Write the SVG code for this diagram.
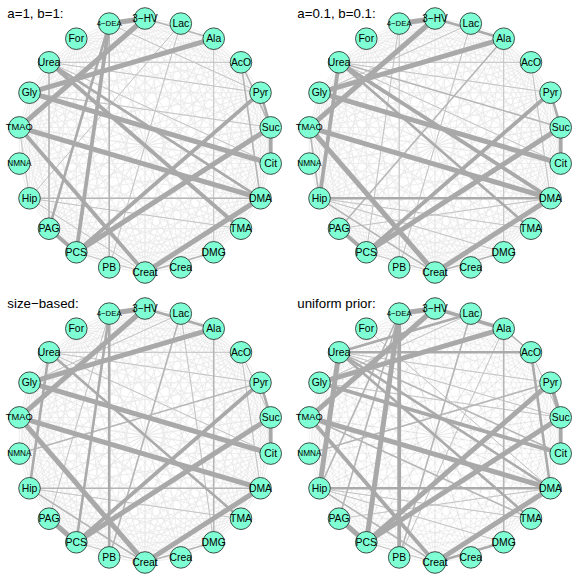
<svg xmlns="http://www.w3.org/2000/svg" xmlns:xlink="http://www.w3.org/1999/xlink" width="581" height="581" viewBox="0 0 581 581">
<style>
.title{font-family:"Liberation Sans",Arial,sans-serif;font-size:13.3px;fill:#000}
.nodes circle{fill:#7fffd4;stroke:#222;stroke-width:.8}
.nodes text{font-family:"Liberation Sans",Arial,sans-serif;font-size:10.4px;text-anchor:middle;dominant-baseline:central;fill:#000}
.nodes text.s10{font-size:10px}
.nodes text.s9{font-size:9.3px}
.nodes text.s8{font-size:8.2px}
.nodes text.s7{font-size:7.8px}
.e1{stroke:#c4c4c4;stroke-width:1;fill:none}
.e2{stroke:#b6b6b6;stroke-width:1.6;fill:none}
.e3{stroke:#ababab;stroke-width:2.6;fill:none}
.e4{stroke:#a9a9a9;stroke-width:3.8;fill:none}
.e5{stroke:#a9a9a9;stroke-width:5;fill:none}
.meshA{stroke:#e8e8e8;stroke-width:.7;fill:none}
.meshB{stroke:#999;stroke-opacity:.16;stroke-width:.7;fill:none}
</style>
<defs>
<path id="fan" d="M270.71 127.43L260.52 92.74M270.71 127.43L240.98 62.33M270.71 127.43L213.66 38.66M270.71 127.43L180.78 23.64M270.71 127.43L145 18.5M270.71 127.43L109.22 23.64M270.71 127.43L76.34 38.66M270.71 127.43L49.02 62.33M270.71 127.43L29.48 92.74M270.71 127.43L19.29 127.43M270.71 127.43L19.29 163.57"/>
<g id="mesh">
<use href="#fan"/>
<use href="#fan" transform="rotate(-16.3636 145 145.5)"/>
<use href="#fan" transform="rotate(-32.7273 145 145.5)"/>
<use href="#fan" transform="rotate(-49.0909 145 145.5)"/>
<use href="#fan" transform="rotate(-65.4545 145 145.5)"/>
<use href="#fan" transform="rotate(-81.8182 145 145.5)"/>
<use href="#fan" transform="rotate(-98.1818 145 145.5)"/>
<use href="#fan" transform="rotate(-114.5455 145 145.5)"/>
<use href="#fan" transform="rotate(-130.9091 145 145.5)"/>
<use href="#fan" transform="rotate(-147.2727 145 145.5)"/>
<use href="#fan" transform="rotate(-163.6364 145 145.5)"/>
<use href="#fan" transform="rotate(-180 145 145.5)"/>
<use href="#fan" transform="rotate(-196.3636 145 145.5)"/>
<use href="#fan" transform="rotate(-212.7273 145 145.5)"/>
<use href="#fan" transform="rotate(-229.0909 145 145.5)"/>
<use href="#fan" transform="rotate(-245.4545 145 145.5)"/>
<use href="#fan" transform="rotate(-261.8182 145 145.5)"/>
<use href="#fan" transform="rotate(-278.1818 145 145.5)"/>
<use href="#fan" transform="rotate(-294.5455 145 145.5)"/>
<use href="#fan" transform="rotate(-310.9091 145 145.5)"/>
<use href="#fan" transform="rotate(-327.2727 145 145.5)"/>
<use href="#fan" transform="rotate(-343.6364 145 145.5)"/>
</g>
</defs>
<rect width="581" height="581" fill="#fff"/>

<!-- Panel 1 -->
<g id="panel1">
<g id="p1-connectors">
<use href="#mesh" class="meshA"/>
<g class="e1">
<line x1="213.7" y1="38.7" x2="213.7" y2="252.3"/>
<line x1="180.8" y1="23.6" x2="109.2" y2="267.4"/>
<line x1="49" y1="62.3" x2="241" y2="62.3"/>
<line x1="29.5" y1="198.3" x2="145" y2="272.5"/>
<line x1="19.3" y1="127.4" x2="29.5" y2="198.3"/>
<line x1="49" y1="62.3" x2="270.7" y2="163.6"/>
<line x1="49" y1="62.3" x2="260.5" y2="92.7"/>
<line x1="109.2" y1="23.6" x2="260.5" y2="92.7"/>
<line x1="76.3" y1="252.3" x2="145" y2="272.5"/>
<line x1="29.5" y1="198.3" x2="241" y2="228.7"/>
<line x1="180.8" y1="23.6" x2="29.5" y2="198.3"/>
<line x1="29.5" y1="92.7" x2="270.7" y2="127.4"/>
</g>
<g class="e2">
<line x1="145" y1="18.5" x2="213.7" y2="38.7"/>
<line x1="109.2" y1="23.6" x2="109.2" y2="267.4"/>
<line x1="145" y1="272.5" x2="213.7" y2="252.3"/>
<line x1="29.5" y1="198.3" x2="260.5" y2="198.3"/>
<line x1="49" y1="62.3" x2="49" y2="228.7"/>
<line x1="241" y1="62.3" x2="270.7" y2="127.4"/>
<line x1="241" y1="62.3" x2="260.5" y2="198.3"/>
</g>
<g class="e3">
<line x1="260.5" y1="92.7" x2="270.7" y2="127.4"/>
<line x1="109.2" y1="23.6" x2="49" y2="228.7"/>
<line x1="49" y1="62.3" x2="260.5" y2="198.3"/>
</g>
<g class="e4">
<line x1="109.2" y1="23.6" x2="76.3" y2="252.3"/>
<line x1="19.3" y1="127.4" x2="145" y2="272.5"/>
<line x1="260.5" y1="92.7" x2="76.3" y2="252.3"/>
<line x1="49" y1="228.7" x2="76.3" y2="252.3"/>
<line x1="270.7" y1="127.4" x2="270.7" y2="163.6"/>
<line x1="49" y1="62.3" x2="241" y2="228.7"/>
</g>
<g class="e5">
<line x1="109.2" y1="23.6" x2="145" y2="18.5"/>
<line x1="145" y1="18.5" x2="19.3" y2="127.4"/>
<line x1="213.7" y1="38.7" x2="29.5" y2="92.7"/>
<line x1="29.5" y1="92.7" x2="270.7" y2="163.6"/>
<line x1="19.3" y1="127.4" x2="260.5" y2="198.3"/>
<line x1="270.7" y1="127.4" x2="76.3" y2="252.3"/>
<line x1="145" y1="272.5" x2="260.5" y2="198.3"/>
</g>
</g>
<g class="nodes">
<g id="p1-Suc"><circle cx="270.7" cy="127.4" r="10.8"/><text x="270.7" y="127.4">Suc</text></g>
<g id="p1-Pyr"><circle cx="260.5" cy="92.7" r="10.8"/><text x="260.5" y="92.7">Pyr</text></g>
<g id="p1-AcO"><circle cx="241" cy="62.3" r="10.8"/><text x="241" y="62.3">AcO</text></g>
<g id="p1-Ala"><circle cx="213.7" cy="38.7" r="10.8"/><text x="213.7" y="38.7">Ala</text></g>
<g id="p1-Lac"><circle cx="180.8" cy="23.6" r="10.8"/><text x="180.8" y="23.6">Lac</text></g>
<g id="p1-3HV"><circle cx="145" cy="18.5" r="10.8"/><text class="s10" x="145" y="18.5">3−HV</text></g>
<g id="p1-4DEA"><circle cx="109.2" cy="23.6" r="10.8"/><text class="s7" x="109.2" y="23.6">4−DEA</text></g>
<g id="p1-For"><circle cx="76.3" cy="38.7" r="10.8"/><text x="76.3" y="38.7">For</text></g>
<g id="p1-Urea"><circle cx="49" cy="62.3" r="10.8"/><text x="49" y="62.3">Urea</text></g>
<g id="p1-Gly"><circle cx="29.5" cy="92.7" r="10.8"/><text x="29.5" y="92.7">Gly</text></g>
<g id="p1-TMAO"><circle cx="19.3" cy="127.4" r="10.8"/><text class="s9" x="19.3" y="127.4">TMAO</text></g>
<g id="p1-NMNA"><circle cx="19.3" cy="163.6" r="10.8"/><text class="s8" x="19.3" y="163.6">NMNA</text></g>
<g id="p1-Hip"><circle cx="29.5" cy="198.3" r="10.8"/><text x="29.5" y="198.3">Hip</text></g>
<g id="p1-PAG"><circle cx="49" cy="228.7" r="10.8"/><text x="49" y="228.7">PAG</text></g>
<g id="p1-PCS"><circle cx="76.3" cy="252.3" r="10.8"/><text x="76.3" y="252.3">PCS</text></g>
<g id="p1-PB"><circle cx="109.2" cy="267.4" r="10.8"/><text x="109.2" y="267.4">PB</text></g>
<g id="p1-Creat"><circle cx="145" cy="272.5" r="10.8"/><text x="145" y="272.5">Creat</text></g>
<g id="p1-Crea"><circle cx="180.8" cy="267.4" r="10.8"/><text x="180.8" y="267.4">Crea</text></g>
<g id="p1-DMG"><circle cx="213.7" cy="252.3" r="10.8"/><text x="213.7" y="252.3">DMG</text></g>
<g id="p1-TMA"><circle cx="241" cy="228.7" r="10.8"/><text x="241" y="228.7">TMA</text></g>
<g id="p1-DMA"><circle cx="260.5" cy="198.3" r="10.8"/><text x="260.5" y="198.3">DMA</text></g>
<g id="p1-Cit"><circle cx="270.7" cy="163.6" r="10.8"/><text x="270.7" y="163.6">Cit</text></g>
</g>
<text class="title" x="7.3" y="17.5">a=1, b=1:</text>
</g>

<!-- Panel 2 -->
<g id="panel2" transform="translate(290,0)">
<g id="p2-connectors">
<use href="#mesh" class="meshA"/>
<g class="e1">
<line x1="213.7" y1="38.7" x2="213.7" y2="252.3"/>
<line x1="109.2" y1="23.6" x2="109.2" y2="267.4"/>
<line x1="109.2" y1="23.6" x2="76.3" y2="252.3"/>
<line x1="49" y1="62.3" x2="241" y2="62.3"/>
<line x1="49" y1="62.3" x2="270.7" y2="163.6"/>
<line x1="180.8" y1="23.6" x2="109.2" y2="267.4"/>
<line x1="29.5" y1="198.3" x2="213.7" y2="252.3"/>
<line x1="49" y1="62.3" x2="260.5" y2="92.7"/>
<line x1="76.3" y1="252.3" x2="145" y2="272.5"/>
<line x1="180.8" y1="23.6" x2="29.5" y2="92.7"/>
<line x1="29.5" y1="198.3" x2="241" y2="228.7"/>
<line x1="49" y1="228.7" x2="260.5" y2="198.3"/>
<line x1="241" y1="62.3" x2="260.5" y2="198.3"/>
</g>
<g class="e2">
<line x1="29.5" y1="198.3" x2="145" y2="272.5"/>
<line x1="145" y1="272.5" x2="213.7" y2="252.3"/>
<line x1="19.3" y1="127.4" x2="29.5" y2="198.3"/>
<line x1="49" y1="62.3" x2="270.7" y2="127.4"/>
<line x1="213.7" y1="38.7" x2="49" y2="228.7"/>
</g>
<g class="e3">
<line x1="29.5" y1="198.3" x2="260.5" y2="198.3"/>
<line x1="260.5" y1="92.7" x2="270.7" y2="127.4"/>
<line x1="145" y1="18.5" x2="213.7" y2="38.7"/>
<line x1="49" y1="62.3" x2="241" y2="228.7"/>
</g>
<g class="e4">
<line x1="49" y1="62.3" x2="29.5" y2="198.3"/>
<line x1="49" y1="62.3" x2="260.5" y2="198.3"/>
<line x1="260.5" y1="92.7" x2="76.3" y2="252.3"/>
<line x1="49" y1="228.7" x2="76.3" y2="252.3"/>
<line x1="270.7" y1="127.4" x2="270.7" y2="163.6"/>
</g>
<g class="e5">
<line x1="109.2" y1="23.6" x2="145" y2="18.5"/>
<line x1="145" y1="18.5" x2="19.3" y2="127.4"/>
<line x1="213.7" y1="38.7" x2="29.5" y2="92.7"/>
<line x1="29.5" y1="92.7" x2="270.7" y2="163.6"/>
<line x1="19.3" y1="127.4" x2="260.5" y2="198.3"/>
<line x1="270.7" y1="127.4" x2="76.3" y2="252.3"/>
<line x1="145" y1="272.5" x2="260.5" y2="198.3"/>
<line x1="19.3" y1="127.4" x2="145" y2="272.5"/>
</g>
</g>
<g class="nodes">
<g id="p2-Suc"><circle cx="270.7" cy="127.4" r="10.8"/><text x="270.7" y="127.4">Suc</text></g>
<g id="p2-Pyr"><circle cx="260.5" cy="92.7" r="10.8"/><text x="260.5" y="92.7">Pyr</text></g>
<g id="p2-AcO"><circle cx="241" cy="62.3" r="10.8"/><text x="241" y="62.3">AcO</text></g>
<g id="p2-Ala"><circle cx="213.7" cy="38.7" r="10.8"/><text x="213.7" y="38.7">Ala</text></g>
<g id="p2-Lac"><circle cx="180.8" cy="23.6" r="10.8"/><text x="180.8" y="23.6">Lac</text></g>
<g id="p2-3HV"><circle cx="145" cy="18.5" r="10.8"/><text class="s10" x="145" y="18.5">3−HV</text></g>
<g id="p2-4DEA"><circle cx="109.2" cy="23.6" r="10.8"/><text class="s7" x="109.2" y="23.6">4−DEA</text></g>
<g id="p2-For"><circle cx="76.3" cy="38.7" r="10.8"/><text x="76.3" y="38.7">For</text></g>
<g id="p2-Urea"><circle cx="49" cy="62.3" r="10.8"/><text x="49" y="62.3">Urea</text></g>
<g id="p2-Gly"><circle cx="29.5" cy="92.7" r="10.8"/><text x="29.5" y="92.7">Gly</text></g>
<g id="p2-TMAO"><circle cx="19.3" cy="127.4" r="10.8"/><text class="s9" x="19.3" y="127.4">TMAO</text></g>
<g id="p2-NMNA"><circle cx="19.3" cy="163.6" r="10.8"/><text class="s8" x="19.3" y="163.6">NMNA</text></g>
<g id="p2-Hip"><circle cx="29.5" cy="198.3" r="10.8"/><text x="29.5" y="198.3">Hip</text></g>
<g id="p2-PAG"><circle cx="49" cy="228.7" r="10.8"/><text x="49" y="228.7">PAG</text></g>
<g id="p2-PCS"><circle cx="76.3" cy="252.3" r="10.8"/><text x="76.3" y="252.3">PCS</text></g>
<g id="p2-PB"><circle cx="109.2" cy="267.4" r="10.8"/><text x="109.2" y="267.4">PB</text></g>
<g id="p2-Creat"><circle cx="145" cy="272.5" r="10.8"/><text x="145" y="272.5">Creat</text></g>
<g id="p2-Crea"><circle cx="180.8" cy="267.4" r="10.8"/><text x="180.8" y="267.4">Crea</text></g>
<g id="p2-DMG"><circle cx="213.7" cy="252.3" r="10.8"/><text x="213.7" y="252.3">DMG</text></g>
<g id="p2-TMA"><circle cx="241" cy="228.7" r="10.8"/><text x="241" y="228.7">TMA</text></g>
<g id="p2-DMA"><circle cx="260.5" cy="198.3" r="10.8"/><text x="260.5" y="198.3">DMA</text></g>
<g id="p2-Cit"><circle cx="270.7" cy="163.6" r="10.8"/><text x="270.7" y="163.6">Cit</text></g>
</g>
<text class="title" x="7.3" y="17.5">a=0.1, b=0.1:</text>
</g>

<!-- Panel 3 -->
<g id="panel3" transform="translate(0,290)">
<g id="p3-connectors">
<use href="#mesh" class="meshA"/>
<g class="e1">
<line x1="49" y1="62.3" x2="241" y2="62.3"/>
<line x1="241" y1="62.3" x2="260.5" y2="198.3"/>
<line x1="241" y1="62.3" x2="270.7" y2="127.4"/>
<line x1="180.8" y1="23.6" x2="213.7" y2="252.3"/>
<line x1="49" y1="62.3" x2="270.7" y2="163.6"/>
<line x1="109.2" y1="23.6" x2="49" y2="228.7"/>
<line x1="180.8" y1="23.6" x2="29.5" y2="92.7"/>
<line x1="76.3" y1="252.3" x2="145" y2="272.5"/>
<line x1="49" y1="62.3" x2="260.5" y2="92.7"/>
<line x1="29.5" y1="198.3" x2="241" y2="228.7"/>
</g>
<g class="e2">
<line x1="213.7" y1="38.7" x2="213.7" y2="252.3"/>
<line x1="29.5" y1="198.3" x2="260.5" y2="198.3"/>
<line x1="180.8" y1="23.6" x2="109.2" y2="267.4"/>
<line x1="19.3" y1="163.6" x2="260.5" y2="92.7"/>
<line x1="29.5" y1="198.3" x2="145" y2="272.5"/>
<line x1="145" y1="272.5" x2="213.7" y2="252.3"/>
</g>
<g class="e3">
<line x1="109.2" y1="23.6" x2="76.3" y2="252.3"/>
<line x1="109.2" y1="23.6" x2="109.2" y2="267.4"/>
<line x1="260.5" y1="92.7" x2="270.7" y2="127.4"/>
<line x1="145" y1="18.5" x2="213.7" y2="38.7"/>
<line x1="49" y1="62.3" x2="29.5" y2="198.3"/>
<line x1="49" y1="62.3" x2="241" y2="228.7"/>
</g>
<g class="e4">
<line x1="260.5" y1="92.7" x2="76.3" y2="252.3"/>
<line x1="270.7" y1="127.4" x2="270.7" y2="163.6"/>
</g>
<g class="e5">
<line x1="109.2" y1="23.6" x2="145" y2="18.5"/>
<line x1="145" y1="18.5" x2="19.3" y2="127.4"/>
<line x1="213.7" y1="38.7" x2="29.5" y2="92.7"/>
<line x1="29.5" y1="92.7" x2="270.7" y2="163.6"/>
<line x1="19.3" y1="127.4" x2="260.5" y2="198.3"/>
<line x1="19.3" y1="127.4" x2="145" y2="272.5"/>
<line x1="270.7" y1="127.4" x2="76.3" y2="252.3"/>
<line x1="145" y1="272.5" x2="260.5" y2="198.3"/>
<line x1="49" y1="228.7" x2="76.3" y2="252.3"/>
</g>
</g>
<g class="nodes">
<g id="p3-Suc"><circle cx="270.7" cy="127.4" r="10.8"/><text x="270.7" y="127.4">Suc</text></g>
<g id="p3-Pyr"><circle cx="260.5" cy="92.7" r="10.8"/><text x="260.5" y="92.7">Pyr</text></g>
<g id="p3-AcO"><circle cx="241" cy="62.3" r="10.8"/><text x="241" y="62.3">AcO</text></g>
<g id="p3-Ala"><circle cx="213.7" cy="38.7" r="10.8"/><text x="213.7" y="38.7">Ala</text></g>
<g id="p3-Lac"><circle cx="180.8" cy="23.6" r="10.8"/><text x="180.8" y="23.6">Lac</text></g>
<g id="p3-3HV"><circle cx="145" cy="18.5" r="10.8"/><text class="s10" x="145" y="18.5">3−HV</text></g>
<g id="p3-4DEA"><circle cx="109.2" cy="23.6" r="10.8"/><text class="s7" x="109.2" y="23.6">4−DEA</text></g>
<g id="p3-For"><circle cx="76.3" cy="38.7" r="10.8"/><text x="76.3" y="38.7">For</text></g>
<g id="p3-Urea"><circle cx="49" cy="62.3" r="10.8"/><text x="49" y="62.3">Urea</text></g>
<g id="p3-Gly"><circle cx="29.5" cy="92.7" r="10.8"/><text x="29.5" y="92.7">Gly</text></g>
<g id="p3-TMAO"><circle cx="19.3" cy="127.4" r="10.8"/><text class="s9" x="19.3" y="127.4">TMAO</text></g>
<g id="p3-NMNA"><circle cx="19.3" cy="163.6" r="10.8"/><text class="s8" x="19.3" y="163.6">NMNA</text></g>
<g id="p3-Hip"><circle cx="29.5" cy="198.3" r="10.8"/><text x="29.5" y="198.3">Hip</text></g>
<g id="p3-PAG"><circle cx="49" cy="228.7" r="10.8"/><text x="49" y="228.7">PAG</text></g>
<g id="p3-PCS"><circle cx="76.3" cy="252.3" r="10.8"/><text x="76.3" y="252.3">PCS</text></g>
<g id="p3-PB"><circle cx="109.2" cy="267.4" r="10.8"/><text x="109.2" y="267.4">PB</text></g>
<g id="p3-Creat"><circle cx="145" cy="272.5" r="10.8"/><text x="145" y="272.5">Creat</text></g>
<g id="p3-Crea"><circle cx="180.8" cy="267.4" r="10.8"/><text x="180.8" y="267.4">Crea</text></g>
<g id="p3-DMG"><circle cx="213.7" cy="252.3" r="10.8"/><text x="213.7" y="252.3">DMG</text></g>
<g id="p3-TMA"><circle cx="241" cy="228.7" r="10.8"/><text x="241" y="228.7">TMA</text></g>
<g id="p3-DMA"><circle cx="260.5" cy="198.3" r="10.8"/><text x="260.5" y="198.3">DMA</text></g>
<g id="p3-Cit"><circle cx="270.7" cy="163.6" r="10.8"/><text x="270.7" y="163.6">Cit</text></g>
</g>
<text class="title" x="7.3" y="17.5">size−based:</text>
</g>

<!-- Panel 4 -->
<g id="panel4" transform="translate(290,290)">
<g id="p4-connectors">
<use href="#mesh" class="meshB"/>
<g class="e1">
<line x1="49" y1="62.3" x2="260.5" y2="92.7"/>
<line x1="49" y1="62.3" x2="270.7" y2="127.4"/>
<line x1="76.3" y1="252.3" x2="145" y2="272.5"/>
<line x1="29.5" y1="198.3" x2="241" y2="228.7"/>
<line x1="180.8" y1="23.6" x2="29.5" y2="92.7"/>
<line x1="49" y1="228.7" x2="260.5" y2="198.3"/>
<line x1="29.5" y1="92.7" x2="270.7" y2="127.4"/>
<line x1="109.2" y1="267.4" x2="213.7" y2="38.7"/>
<line x1="241" y1="62.3" x2="270.7" y2="127.4"/>
<line x1="76.3" y1="38.7" x2="260.5" y2="198.3"/>
<line x1="29.5" y1="198.3" x2="213.7" y2="252.3"/>
</g>
<g class="e2">
<line x1="213.7" y1="38.7" x2="213.7" y2="252.3"/>
<line x1="180.8" y1="23.6" x2="109.2" y2="267.4"/>
<line x1="19.3" y1="163.6" x2="260.5" y2="92.7"/>
<line x1="29.5" y1="198.3" x2="145" y2="272.5"/>
<line x1="109.2" y1="23.6" x2="49" y2="228.7"/>
<line x1="109.2" y1="23.6" x2="29.5" y2="198.3"/>
<line x1="213.7" y1="38.7" x2="241" y2="62.3"/>
<line x1="19.3" y1="127.4" x2="241" y2="228.7"/>
<line x1="49" y1="62.3" x2="270.7" y2="163.6"/>
</g>
<g class="e3">
<line x1="29.5" y1="198.3" x2="260.5" y2="198.3"/>
<line x1="49" y1="62.3" x2="241" y2="62.3"/>
<line x1="241" y1="62.3" x2="260.5" y2="198.3"/>
<line x1="49" y1="62.3" x2="260.5" y2="198.3"/>
<line x1="49" y1="62.3" x2="241" y2="228.7"/>
<line x1="180.8" y1="23.6" x2="49" y2="62.3"/>
<line x1="145" y1="272.5" x2="213.7" y2="252.3"/>
</g>
<g class="e4">
<line x1="145" y1="18.5" x2="213.7" y2="38.7"/>
<line x1="19.3" y1="127.4" x2="145" y2="272.5"/>
<line x1="270.7" y1="127.4" x2="270.7" y2="163.6"/>
<line x1="260.5" y1="92.7" x2="270.7" y2="127.4"/>
<line x1="29.5" y1="92.7" x2="270.7" y2="163.6"/>
<line x1="109.2" y1="23.6" x2="109.2" y2="267.4"/>
</g>
<g class="e5">
<line x1="109.2" y1="23.6" x2="145" y2="18.5"/>
<line x1="213.7" y1="38.7" x2="29.5" y2="92.7"/>
<line x1="19.3" y1="127.4" x2="260.5" y2="198.3"/>
<line x1="270.7" y1="127.4" x2="76.3" y2="252.3"/>
<line x1="260.5" y1="92.7" x2="76.3" y2="252.3"/>
<line x1="145" y1="272.5" x2="260.5" y2="198.3"/>
<line x1="49" y1="228.7" x2="76.3" y2="252.3"/>
<line x1="49" y1="62.3" x2="29.5" y2="198.3"/>
<line x1="109.2" y1="23.6" x2="76.3" y2="252.3"/>
<line x1="145" y1="18.5" x2="19.3" y2="127.4"/>
</g>
</g>
<g class="nodes">
<g id="p4-Suc"><circle cx="270.7" cy="127.4" r="10.8"/><text x="270.7" y="127.4">Suc</text></g>
<g id="p4-Pyr"><circle cx="260.5" cy="92.7" r="10.8"/><text x="260.5" y="92.7">Pyr</text></g>
<g id="p4-AcO"><circle cx="241" cy="62.3" r="10.8"/><text x="241" y="62.3">AcO</text></g>
<g id="p4-Ala"><circle cx="213.7" cy="38.7" r="10.8"/><text x="213.7" y="38.7">Ala</text></g>
<g id="p4-Lac"><circle cx="180.8" cy="23.6" r="10.8"/><text x="180.8" y="23.6">Lac</text></g>
<g id="p4-3HV"><circle cx="145" cy="18.5" r="10.8"/><text class="s10" x="145" y="18.5">3−HV</text></g>
<g id="p4-4DEA"><circle cx="109.2" cy="23.6" r="10.8"/><text class="s7" x="109.2" y="23.6">4−DEA</text></g>
<g id="p4-For"><circle cx="76.3" cy="38.7" r="10.8"/><text x="76.3" y="38.7">For</text></g>
<g id="p4-Urea"><circle cx="49" cy="62.3" r="10.8"/><text x="49" y="62.3">Urea</text></g>
<g id="p4-Gly"><circle cx="29.5" cy="92.7" r="10.8"/><text x="29.5" y="92.7">Gly</text></g>
<g id="p4-TMAO"><circle cx="19.3" cy="127.4" r="10.8"/><text class="s9" x="19.3" y="127.4">TMAO</text></g>
<g id="p4-NMNA"><circle cx="19.3" cy="163.6" r="10.8"/><text class="s8" x="19.3" y="163.6">NMNA</text></g>
<g id="p4-Hip"><circle cx="29.5" cy="198.3" r="10.8"/><text x="29.5" y="198.3">Hip</text></g>
<g id="p4-PAG"><circle cx="49" cy="228.7" r="10.8"/><text x="49" y="228.7">PAG</text></g>
<g id="p4-PCS"><circle cx="76.3" cy="252.3" r="10.8"/><text x="76.3" y="252.3">PCS</text></g>
<g id="p4-PB"><circle cx="109.2" cy="267.4" r="10.8"/><text x="109.2" y="267.4">PB</text></g>
<g id="p4-Creat"><circle cx="145" cy="272.5" r="10.8"/><text x="145" y="272.5">Creat</text></g>
<g id="p4-Crea"><circle cx="180.8" cy="267.4" r="10.8"/><text x="180.8" y="267.4">Crea</text></g>
<g id="p4-DMG"><circle cx="213.7" cy="252.3" r="10.8"/><text x="213.7" y="252.3">DMG</text></g>
<g id="p4-TMA"><circle cx="241" cy="228.7" r="10.8"/><text x="241" y="228.7">TMA</text></g>
<g id="p4-DMA"><circle cx="260.5" cy="198.3" r="10.8"/><text x="260.5" y="198.3">DMA</text></g>
<g id="p4-Cit"><circle cx="270.7" cy="163.6" r="10.8"/><text x="270.7" y="163.6">Cit</text></g>
</g>
<text class="title" x="7.3" y="17.5">uniform prior:</text>
</g>
</svg>
